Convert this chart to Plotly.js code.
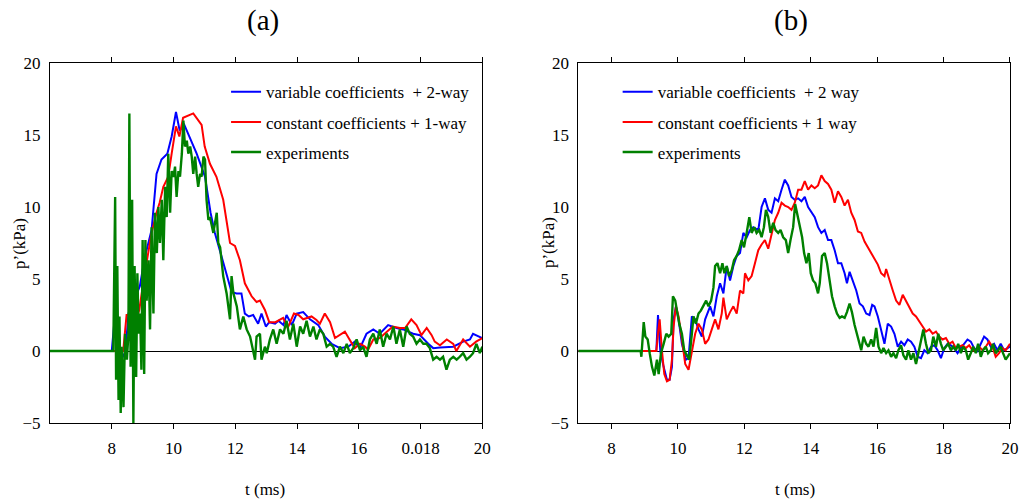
<!DOCTYPE html>
<html>
<head>
<meta charset="utf-8">
<script src="https://cdn.plot.ly/plotly-3.0.1.min.js"></script>
<style>html,body{margin:0;padding:0;background:#fff;}#chart{width:1021px;height:499px;}</style>
</head>
<body>
<div id="chart"></div>
<script>
// ---------- Panel (a) ----------
const a_var_t = [6, 8.0, 8.1, 8.2, 8.3, 8.43, 8.54, 8.7, 8.91, 9.07,
  9.29, 9.45, 9.61, 9.8, 9.94, 10.08, 10.2, 10.35, 10.53, 10.75,
  11.02, 11.12, 11.2, 11.34, 11.5, 11.6, 11.7, 11.88, 12.04, 12.2,
  12.31, 12.44, 12.58, 12.74, 12.85, 12.99, 13.1, 13.29, 13.4, 13.56,
  13.66, 13.83, 13.99, 14.2, 14.42, 14.69, 14.9, 15.12, 15.39, 15.66,
  15.87, 16.04, 16.25, 16.47, 16.68, 16.95, 17.22, 17.44, 17.76, 17.98,
  18.25, 18.41, 18.63, 18.84, 19.06, 19.38, 19.6, 19.7, 19.87, 20];
const a_var_p = [0, 0, 2.4, 1.0, 0.0, -0.5, 2.6, 3.4, 4.5, 6.5,
  8.4, 12.3, 13.3, 13.7, 14.9, 16.6, 15.3, 15.7, 14.8, 13.7,
  12.1, 10.5, 9.6, 8.2, 7.0, 6.1, 5.4, 4.1, 4.0, 4.0,
  2.6, 2.4, 2.5, 1.9, 2.6, 1.7, 2.0, 1.9, 2.1, 1.8,
  2.5, 1.8, 2.6, 2.7, 2.2, 1.8, 1.0, 0.5, 0.2, 0.3,
  0.65, 0.2, 1.2, 1.5, 1.2, 1.8, 1.6, 1.5, 1.2, 1.1,
  0.5, 0.2, 0.25, 0.3, 0.3, 0.65, 0.8, 1.2, 1.0, 0.9];

const a_const_t = [6, 8.37, 8.48, 8.62, 8.72, 8.89, 9.07, 9.29, 9.45, 9.55,
  9.67, 9.83, 9.94, 10.08, 10.19, 10.31, 10.64, 10.91, 11.01, 11.18,
  11.39, 11.61, 11.83, 11.99, 12.15, 12.31, 12.53, 12.69, 12.8, 12.96,
  13.1, 13.3, 13.55, 13.7, 13.9, 14.05, 14.2, 14.47, 14.63, 14.74,
  14.9, 15.07, 15.23, 15.39, 15.55, 15.7, 15.87, 16.04, 16.2, 16.3,
  16.47, 16.68, 16.9, 17.1, 17.33, 17.5, 17.7, 17.87, 18.03, 18.2,
  18.36, 18.46, 18.63, 18.85, 19.06, 19.16, 19.38, 19.6, 19.8, 20];
const a_const_p = [0, 0, 2.5, 2.5, 1.8, 2.85, 5.4, 8.2, 9.6, 10.3,
  11.4, 12.1, 13.7, 15.6, 14.9, 16.2, 16.5, 15.7, 14.2, 13.0,
  12.1, 10.5, 7.5, 7.3, 6.3, 4.7, 3.8, 3.4, 3.5, 2.85,
  2.0, 2.0, 2.3, 1.6, 2.6, 2.5, 2.2, 2.4, 2.15, 1.9,
  2.6, 2.0, 0.9, 1.1, 1.35, 0.8, 0.2, 0.5, 0.3, 0.1,
  0.8, 0.9, 1.35, 1.7, 1.6, 1.6, 2.2, 1.8, 1.1, 1.6,
  1.1, 0.65, 0.4, 0.8, 0.5, 0.0, 0.8, 0.3, 0.65, 0.9];

const a_exp_t = [6, 8.05, 8.11, 8.14, 8.18, 8.22, 8.25, 8.29, 8.32, 8.38,
  8.43, 8.49, 8.54, 8.57, 8.61, 8.66, 8.70, 8.74, 8.79, 8.83,
  8.87, 8.92, 8.96, 9.0, 9.05, 9.09, 9.13, 9.19, 9.24, 9.29,
  9.35, 9.40, 9.46, 9.51, 9.56, 9.62, 9.67, 9.73, 9.78, 9.83,
  9.89, 9.94, 10.0, 10.05, 10.1, 10.16, 10.21, 10.27, 10.32, 10.37,
  10.43, 10.48, 10.54, 10.59, 10.64, 10.70, 10.75, 10.80, 10.86, 10.91,
  10.97, 11.02, 11.07, 11.13, 11.18, 11.29, 11.40, 11.45, 11.51, 11.61,
  11.72, 11.83, 11.88, 11.94, 12.05, 12.15, 12.26, 12.37, 12.48, 12.64,
  12.69, 12.80, 12.85, 12.96, 13.02, 13.12, 13.23, 13.34, 13.45, 13.56,
  13.66, 13.77, 13.88, 13.99, 14.10, 14.20, 14.31, 14.42, 14.53, 14.63,
  14.74, 14.85, 14.96, 15.07, 15.17, 15.28, 15.39, 15.50, 15.61, 15.71,
  15.82, 15.93, 16.04, 16.14, 16.25, 16.36, 16.47, 16.58, 16.68, 16.79,
  16.90, 17.01, 17.12, 17.22, 17.33, 17.44, 17.55, 17.65, 17.76, 17.87,
  17.98, 18.09, 18.19, 18.30, 18.41, 18.52, 18.63, 18.73, 18.84, 18.95,
  19.06, 19.17, 19.27, 19.38, 19.49, 19.60, 19.70, 19.81, 19.92, 20.0];
const a_exp_p = [0, 0, 10.7, -2.0, 5.9, -3.4, 2.4, -4.3, 0.3, -3.9,
  1.2, -0.6, 1.2, 16.5, -1.1, 10.5, -5.0, 5.9, -1.8, 5.4,
  1.2, 2.6, -1.3, 7.7, -1.6, 7.7, 3.5, 6.3, 1.5, 8.6,
  2.6, 9.6, 6.8, 10.0, 7.5, 10.5, 6.3, 11.4, 9.3, 13.7,
  9.6, 12.5, 12.1, 12.8, 10.7, 12.5, 12.1, 13.7, 16.0, 14.2,
  14.6, 13.7, 14.2, 13.5, 12.3, 13.5, 12.3, 11.4, 12.3, 12.1,
  13.5, 13.3, 10.5, 9.1, 9.3, 8.2, 9.6, 7.5, 7.2, 5.2,
  4.0, 2.2, 5.2, 4.0, 3.1, 1.5, 2.4, 1.5, 1.0, -0.6,
  1.0, 1.2, -0.6, 0.3, -0.15, 0.8, 1.5, 0.5, 1.5, 1.2,
  2.1, 0.8, 1.9, 0.3, 1.7, 1.2, 2.1, 1.0, 1.7, 0.8,
  1.5, 1.2, 0.3, 0.5, 0.3, -0.4, 0.3, -0.15, 0.5, -0.15,
  0.2, 0.8, 0.05, 0.3, -0.4, 0.8, 1.2, 0.5, 1.5, 0.3,
  1.2, 0.8, 1.7, 0.5, 1.5, 0.3, 1.7, 1.2, 1.0, 0.5,
  0.8, 0.5, 0.5, 0.2, -0.6, -0.4, -0.6, -0.4, -1.3, -0.6,
  -0.4, -0.6, -0.4, -0.15, -0.6, -0.4, -0.15, 0.5, -0.15, 0.3];

// ---------- Panel (b) ----------
const b_var_t = [7, 9.35, 9.4, 9.47, 9.57, 9.67, 9.75, 9.82, 9.87, 9.94,
  10.02, 10.12, 10.24, 10.32, 10.42, 10.52, 10.62, 10.72, 10.82, 10.97,
  11.07, 11.17, 11.27, 11.37, 11.47, 11.57, 11.67, 11.77, 11.87, 11.97,
  12.07, 12.17, 12.27, 12.42, 12.52, 12.62, 12.72, 12.82, 12.92, 13.02,
  13.12, 13.22, 13.32, 13.42, 13.52, 13.62, 13.72, 13.82, 13.92, 14.02,
  14.12, 14.22, 14.32, 14.42, 14.52, 14.62, 14.72, 14.82, 14.92, 15.02,
  15.09, 15.17, 15.27, 15.37, 15.47, 15.57, 15.67, 15.77, 15.85, 15.92,
  16.02, 16.12, 16.22, 16.32, 16.42, 16.52, 16.62, 16.72, 16.82, 16.92,
  17.02, 17.12, 17.22, 17.32, 17.42, 17.52, 17.62, 17.72, 17.82, 17.92,
  18.02, 18.12, 18.22, 18.32, 18.42, 18.52, 18.62, 18.72, 18.82, 18.92,
  19.02, 19.12, 19.22, 19.32, 19.42, 19.52, 19.62, 19.72, 19.82, 20];
const b_var_p = [0, 0, 2.5, 0, -1.1, -2.0, -2.0, -1.1, 2.2, 3.1,
  2.2, 0.5, -0.6, -0.5, 2.4, 2.2, 1.5, 1.0, 2.2, 3.1,
  2.4, 3.8, 4.7, 4.0, 5.9, 4.9, 5.9, 6.6, 6.8, 8.2,
  7.9, 8.4, 8.6, 8.4, 10.0, 10.6, 9.8, 9.6, 10.6, 10.4,
  11.2, 11.9, 11.5, 10.7, 10.5, 10.6, 10.4, 10.7, 10.0, 9.6,
  9.3, 8.6, 8.2, 8.4, 7.7, 7.7, 7.0, 6.1, 6.1, 5.4,
  4.7, 5.5, 4.9, 4.2, 3.3, 3.1, 2.6, 2.5, 3.2, 3.1,
  2.4, 1.5, 0.5, 1.9, 1.7, 1.2, 0.3, 0.65, 0.4, 0.8,
  0.65, 0.3, -0.4, -0.5, 0.05, -0.15, 0.3, 0.4, 0.05, -0.5,
  0.2, 0.5, 0.4, 0.2, -0.15, 0.2, 0.5, 0.8, 0.65, 0.2,
  0, 0.5, 1.0, 0.8, 0.3, 0.5, 0.05, 0.5, 0.05, 0.3];

const b_const_t = [7, 9.35, 9.4, 9.45, 9.52, 9.59, 9.67, 9.75, 9.82, 9.87,
  9.94, 10.02, 10.12, 10.22, 10.32, 10.42, 10.52, 10.62, 10.72, 10.82,
  10.92, 11.02, 11.12, 11.22, 11.32, 11.37, 11.47, 11.57, 11.67, 11.77,
  11.87, 11.97, 12.02, 12.12, 12.22, 12.32, 12.42, 12.52, 12.62, 12.72,
  12.82, 12.92, 13.02, 13.12, 13.22, 13.32, 13.42, 13.52, 13.62, 13.72,
  13.82, 13.92, 14.02, 14.12, 14.22, 14.32, 14.42, 14.52, 14.62, 14.72,
  14.82, 14.92, 15.02, 15.12, 15.22, 15.32, 15.42, 15.52, 15.62, 15.72,
  15.82, 15.92, 16.02, 16.12, 16.22, 16.27, 16.37, 16.47, 16.57, 16.67,
  16.77, 16.87, 16.97, 17.07, 17.17, 17.27, 17.37, 17.47, 17.57, 17.67,
  17.77, 17.87, 17.97, 18.07, 18.17, 18.27, 18.37, 18.47, 18.57, 18.67,
  18.77, 18.87, 18.97, 19.07, 19.17, 19.27, 19.37, 19.47, 19.57, 19.67,
  19.77, 19.87, 20];
const b_const_p = [0, 0, 1.2, 2.2, 0, -1.6, -2.1, -2.0, -0.6, 1.7,
  3.1, 2.4, 0.8, -0.9, -1.3, -0.15, 1.2, 1.9, 1.5, 0.5,
  0.8, 1.5, 2.2, 1.5, 2.6, 3.7, 2.2, 2.7, 3.1, 2.6,
  4.2, 4.0, 5.4, 4.9, 5.2, 6.1, 7.0, 7.4, 7.7, 7.1,
  8.2, 9.1, 9.6, 10.3, 10.1, 10.0, 9.8, 10.3, 11.2, 11.2,
  11.8, 11.2, 11.5, 11.3, 11.5, 12.2, 11.8, 11.6, 11.2, 10.3,
  11.1, 10.7, 10.1, 10.5, 9.6, 9.1, 8.3, 8.2, 7.6, 7.2,
  6.8, 6.3, 6.0, 5.4, 5.2, 5.7, 4.9, 4.2, 3.5, 3.2,
  3.9, 3.5, 3.1, 2.6, 2.4, 2.0, 1.7, 1.35, 1.5, 1.2,
  1.35, 1.0, 0.8, 0.9, 0.5, 0.65, 0.2, 0.3, 0.4, 0.2,
  0.4, 0.05, 0, 0.3, 0.05, 0.3, 0.65, 0.3, -0.4, -0.15,
  0.2, 0.05, 0.5];

const b_exp_t = [7, 8.88, 8.9, 8.97, 9.02, 9.09, 9.15, 9.22, 9.29, 9.37,
  9.42, 9.49, 9.57, 9.65, 9.72, 9.8, 9.85, 9.92, 9.97, 10.04,
  10.12, 10.19, 10.27, 10.34, 10.42, 10.47, 10.54, 10.62, 10.69, 10.77,
  10.85, 10.92, 11.0, 11.07, 11.12, 11.19, 11.27, 11.34, 11.4, 11.47,
  11.54, 11.62, 11.69, 11.77, 11.84, 11.92, 11.99, 12.07, 12.15, 12.22,
  12.3, 12.37, 12.45, 12.52, 12.59, 12.65, 12.72, 12.79, 12.87, 12.94,
  13.02, 13.09, 13.17, 13.25, 13.32, 13.39, 13.47, 13.53, 13.59, 13.67,
  13.74, 13.8, 13.87, 13.94, 14.0, 14.07, 14.14, 14.22, 14.27, 14.34,
  14.42, 14.49, 14.57, 14.64, 14.72, 14.79, 14.87, 14.94, 15.02, 15.09,
  15.17, 15.24, 15.32, 15.39, 15.45, 15.52, 15.59, 15.67, 15.74, 15.82,
  15.89, 15.97, 16.04, 16.12, 16.19, 16.27, 16.34, 16.42, 16.49, 16.57,
  16.64, 16.72, 16.79, 16.87, 16.94, 17.02, 17.09, 17.17, 17.24, 17.32,
  17.39, 17.47, 17.54, 17.62, 17.69, 17.77, 17.84, 17.92, 17.99, 18.07,
  18.14, 18.22, 18.29, 18.37, 18.44, 18.52, 18.59, 18.67, 18.74, 18.82,
  18.89, 18.97, 19.04, 19.12, 19.19, 19.27, 19.34, 19.42, 19.49, 19.57,
  19.64, 19.72, 19.79, 19.87, 20];
const b_exp_p = [0, 0, -0.4, 2.0, 1.0, 0.8, -0.15, -1.1, -1.7, -0.6,
  -1.6, -0.15, 0.5, 1.2, 1.0, 1.2, 3.8, 3.5, 2.8, 1.9,
  1.2, 0.05, -0.3, -0.6, 1.2, 2.4, 1.9, 2.6, 2.8, 3.2,
  3.5, 3.1, 3.5, 4.4, 5.9, 6.1, 5.4, 6.1, 5.4, 5.9,
  5.2, 5.6, 6.3, 6.6, 7.0, 7.7, 7.2, 8.2, 9.3, 8.2,
  8.6, 8.2, 8.4, 7.9, 8.6, 9.8, 9.3, 8.2, 8.9, 8.4,
  8.2, 8.4, 7.9, 7.7, 6.8, 7.7, 8.6, 10.2, 9.6, 8.6,
  7.9, 6.8, 6.1, 6.8, 5.4, 4.9, 4.7, 4.0, 4.7, 6.6,
  6.8, 6.1, 4.9, 3.8, 3.1, 2.6, 2.3, 2.4, 2.3, 2.7,
  3.3, 2.7, 1.8, 1.2, 0.5, 0.05, 1.0, 0.5, 0.3, 0.8,
  0.3, 1.6, 0.3, -0.15, 0.2, -0.15, 0.05, -0.4, -0.15, -0.5,
  0.05, 0.4, -0.3, -0.6, 0.05, -0.6, -0.15, -0.9, -0.15, 0.8,
  1.5, 0.5, -0.15, 0.05, 1.0, 0.3, 1.2, 0.5, 0.05, 0.3,
  0.5, 0.05, 0.3, 0.05, 0.5, -0.15, 0.3, 0.05, -0.6, -0.15,
  0.3, -0.15, 0.5, -0.4, 0.05, 0.3, -0.15, 0.05, 0.5, -0.15,
  0.05, 0.3, -0.15, -0.6, -0.15];

// ---------- Labels / ticks ----------
const a_names = ['variable coefficients\u00a0 + 2-way', 'constant coefficients + 1-way', 'experiments'];
const b_names = ['variable coefficients\u00a0 + 2 way', 'constant coefficients + 1 way', 'experiments'];
const a_tickvals = [8, 10, 12, 14, 16, 18, 20];
const a_ticktext = ['8', '10', '12', '14', '16', '0.018', '20'];
const b_tickvals = [8, 10, 12, 14, 16, 18, 20];
const b_ticktext = ['8', '10', '12', '14', '16', '18', '20'];
const y_tickvals = [-5, 0, 5, 10, 15, 20];

const SERIF = 'Liberation Serif';
const BLUE = '#0000ff', RED = '#ff0000', GREEN = '#008000';

function tr(x, y, name, color, width, xa, ya, leg, grp) {
  return {x: x, y: y, name: name, type: 'scatter', mode: 'lines',
    line: {color: color, width: width}, xaxis: xa, yaxis: ya,
    legend: leg, legendgroup: grp};
}

const data = [
  tr(a_var_t, a_var_p, a_names[0], BLUE, 2, 'x', 'y', 'legend', 'a1'),
  tr(a_const_t, a_const_p, a_names[1], RED, 2, 'x', 'y', 'legend', 'a2'),
  tr(a_exp_t, a_exp_p, a_names[2], GREEN, 2.4, 'x', 'y', 'legend', 'a3'),
  tr(b_var_t, b_var_p, b_names[0], BLUE, 2, 'x2', 'y2', 'legend2', 'b1'),
  tr(b_const_t, b_const_p, b_names[1], RED, 2, 'x2', 'y2', 'legend2', 'b2'),
  tr(b_exp_t, b_exp_p, b_names[2], GREEN, 2.4, 'x2', 'y2', 'legend2', 'b3')
];

function xax(domain, range, tv, tt, anchor) {
  return {domain: domain, range: range, anchor: anchor, tickvals: tv, ticktext: tt,
    ticks: 'outside', ticklen: 5, tickcolor: '#000', mirror: 'ticks', showline: true,
    linecolor: '#000', linewidth: 1, showgrid: false, zeroline: false,
    tickfont: {family: SERIF, size: 17, color: '#000'}, ticklabelstandoff: 5, fixedrange: true};
}
function yax(anchor) {
  return {domain: [0, 1], range: [-5, 20], anchor: anchor, tickvals: y_tickvals,
    ticks: '', showline: true, mirror: true, linecolor: '#000', linewidth: 1,
    showgrid: false, zeroline: true, zerolinecolor: '#000', zerolinewidth: 1,
    tickfont: {family: SERIF, size: 17, color: '#000'}, ticklabelstandoff: 5, fixedrange: true};
}
function yaxR(over, anchor, lw) {
  return {overlaying: over, anchor: anchor, side: 'right', range: [-5, 20],
    tickvals: y_tickvals, ticks: 'outside', ticklen: 5, tickcolor: '#000',
    showticklabels: false, showline: lw > 1, linewidth: lw, linecolor: '#333',
    showgrid: false, zeroline: false, fixedrange: true};
}
function leg(x) {
  return {x: x, y: 0.9686, xanchor: 'left', yanchor: 'top', bgcolor: 'rgba(0,0,0,0)',
    font: {family: SERIF, size: 17, color: '#000'}, tracegroupgap: 5, traceorder: 'grouped'};
}
function ann(text, x, y, size, angle) {
  return {text: text, xref: 'paper', yref: 'paper', x: x, y: y, showarrow: false,
    textangle: angle || 0, font: {family: SERIF, size: size, color: '#000'},
    xanchor: 'center', yanchor: 'middle'};
}

const layout = {
  width: 1021, height: 499,
  margin: {l: 50, r: 11, t: 63, b: 76},
  paper_bgcolor: '#fff', plot_bgcolor: '#fff',
  font: {family: SERIF, size: 17, color: '#000'},
  xaxis: xax([0, 0.4503], [6, 20], a_tickvals, a_ticktext, 'y'),
  yaxis: yax('x'),
  xaxis2: xax([0.5503, 1], [7, 20], b_tickvals, b_ticktext, 'y2'),
  yaxis2: yax('x2'),
  yaxis3: yaxR('y', 'x', 1),
  yaxis4: yaxR('y2', 'x2', 2),
  legend: leg(0.1834),
  legend2: leg(0.5913),
  annotations: [
    ann('(a)', 0.2219, 1.119, 29),
    ann('(b)', 0.7719, 1.119, 29),
    ann('t (ms)', 0.224, -0.186, 17),
    ann('t (ms)', 0.776, -0.186, 17),
    ann('p\u2019(kPa)', -0.0323, 0.5, 17, -90),
    ann('p\u2019(kPa)', 0.5188, 0.5, 17, -90)
  ]
};

Plotly.newPlot('chart', data, layout, {displayModeBar: false, staticPlot: true});
</script>
</body>
</html>
